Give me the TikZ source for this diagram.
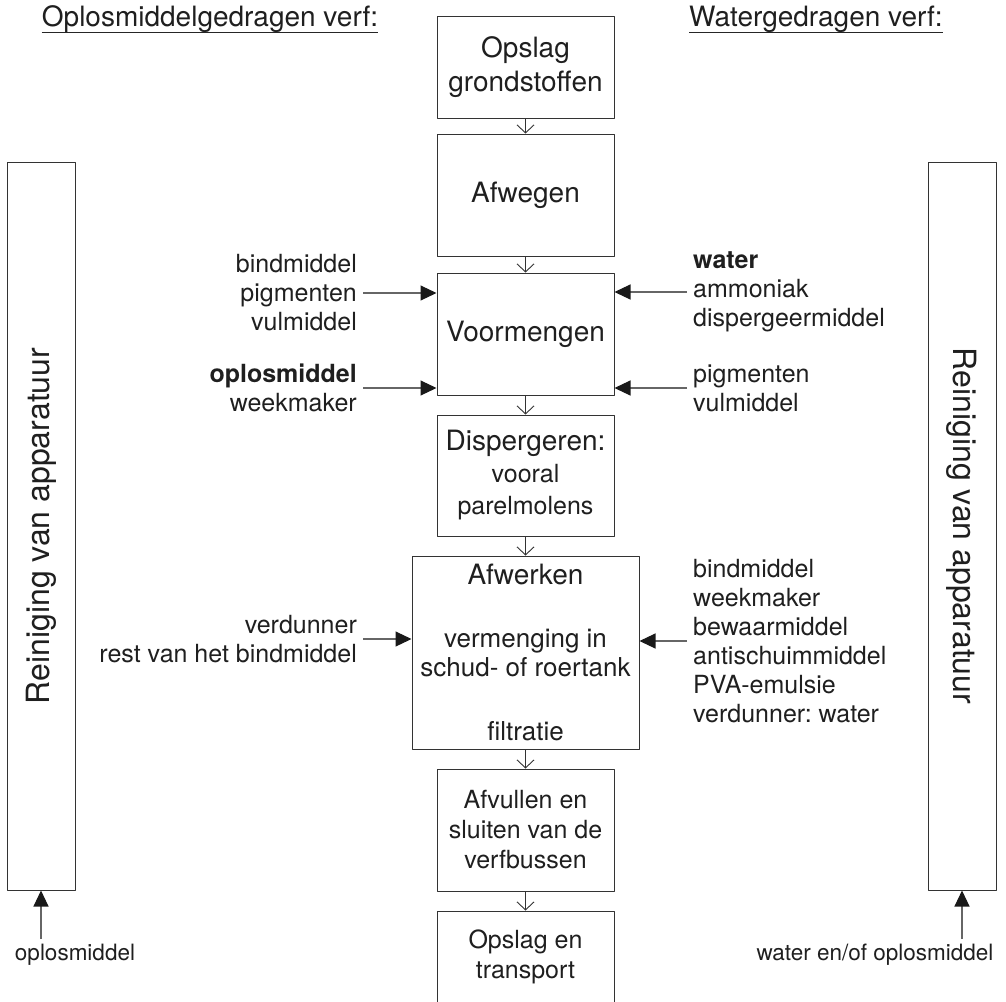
\documentclass[tikz,border=0pt]{standalone}
\usepackage{fontspec}
\setmainfont{TeX Gyre Heros}
\usetikzlibrary{arrows.meta}
\frenchspacing

\begin{document}
\begin{tikzpicture}[x=1pt,y=-1pt,line join=round,
  txt/.style={text=black!88,inner sep=0pt},
  stage/.style={txt,draw=black!80,line width=1pt,align=center,minimum width=177pt,font=\fontsize{28}{34}\selectfont},
  cleanbox/.style={txt,draw=black!80,line width=1pt,minimum width=728pt,minimum height=68pt,font=\fontsize{32}{36}\selectfont},
  feedtxt/.style={txt,inner sep=6pt,font=\fontsize{25}{29}\selectfont},
  solvtxt/.style={txt,inner sep=5pt,font=\fontsize{22.5}{26}\selectfont},
  headtxt/.style={txt,font=\fontsize{28}{34}\selectfont},
  flow/.style={-{Straight Barb[length=8pt,width=17pt]},line width=0.9pt,black!80},
  feed/.style={-{Triangle[length=16pt,width=15pt,color=black!90]},line width=1.1pt,black!60}]
  \useasboundingbox (0,0) rectangle (1006,1001);
  % headers
  \node[headtxt,anchor=base] (hsolv) at (210,27) {Oplosmiddelgedragen verf:};
  \node[headtxt,anchor=base] (hwater) at (816,27) {Watergedragen verf:};
  \draw[line width=1pt,black!85] ([yshift=-5pt]hsolv.base west) -- ([yshift=-5pt]hsolv.base east);
  \draw[line width=1pt,black!85] ([yshift=-5pt]hwater.base west) -- ([yshift=-5pt]hwater.base east);
  % process chain
  \node[stage,minimum height=102pt] (opsl) at (525.5,67) {Opslag\\grondstoffen};
  \node[stage,minimum height=122pt] (afweg) at (525.5,195) {Afwegen};
  \node[stage,minimum height=122pt] (voor) at (525.5,334) {Voormengen};
  \node[stage,minimum height=121pt,font=\fontsize{25}{32}\selectfont] (disp) at (525.5,475.5)
    {{\fontsize{28}{32}\selectfont Dispergeren:}\\vooral\\parelmolens};
  \node[stage,minimum width=227pt,minimum height=193pt,font=\fontsize{26}{29}\selectfont] (afwerk) at (525.5,652.5)
    {{\fontsize{28}{29}\selectfont Afwerken}\\[34pt]vermenging in\\schud- of roertank\\[35pt]filtratie};
  \node[stage,minimum height=122pt,font=\fontsize{25}{30}\selectfont] (afvul) at (525.5,830)
    {Afvullen en\\sluiten van de\\verfbussen};
  \node[stage,minimum height=92pt,font=\fontsize{25}{30}\selectfont] (transp) at (525.5,957)
    {Opslag en\\transport};
  \draw[flow] (opsl) -- (afweg);
  \draw[flow] (afweg) -- (voor);
  \draw[flow] (voor) -- (disp);
  \draw[flow] (disp) -- (afwerk);
  \draw[flow] (afwerk) -- (afvul);
  \draw[flow] (afvul) -- (transp);
  % solvent-borne inputs
  \node[feedtxt,anchor=east,align=right] (lbind) at (363,293) {bindmiddel\\pigmenten\\vulmiddel};
  \node[feedtxt,anchor=east,align=right] (lsolv) at (363,388) {\textbf{oplosmiddel}\\weekmaker};
  \node[feedtxt,anchor=east,align=right] (lverd) at (363,639) {verdunner\\rest van het bindmiddel};
  \draw[feed] (lbind.east) -- (lbind.east -| voor.west);
  \draw[feed] (lsolv.east) -- (lsolv.east -| voor.west);
  \draw[feed] (lverd.east) -- (lverd.east -| afwerk.west);
  % water-borne inputs
  \node[feedtxt,anchor=west,align=left] (rwater) at (687,292) {\textbf{water}\\ammoniak\\dispergeermiddel};
  \node[feedtxt,anchor=west,align=left] (rpigm) at (687,388) {pigmenten\\vulmiddel};
  \node[feedtxt,anchor=west,align=left] (rbind) at (687,641)
    {bindmiddel\\weekmaker\\bewaarmiddel\\antischuimmiddel\\PVA-emulsie\\verdunner: water};
  \draw[feed] (rwater.west) -- (rwater.west -| voor.east);
  \draw[feed] (rpigm.west) -- (rpigm.west -| voor.east);
  \draw[feed] (rbind.west) -- (rbind.west -| afwerk.east);
  % cleaning
  \node[cleanbox,rotate=90] (lclean) at (41,526) {Reiniging van apparatuur};
  \node[cleanbox,rotate=-90] (rclean) at (962,526) {Reiniging van apparatuur};
  \node[solvtxt] (lcsolv) at (75,955) {oplosmiddel};
  \node[solvtxt] (rcsolv) at (875,955) {water en/of oplosmiddel};
  \draw[feed] (lcsolv.north -| lclean.west) -- (lclean.west);
  \draw[feed] (rcsolv.north -| rclean.east) -- (rclean.east);
\end{tikzpicture}
\end{document}
